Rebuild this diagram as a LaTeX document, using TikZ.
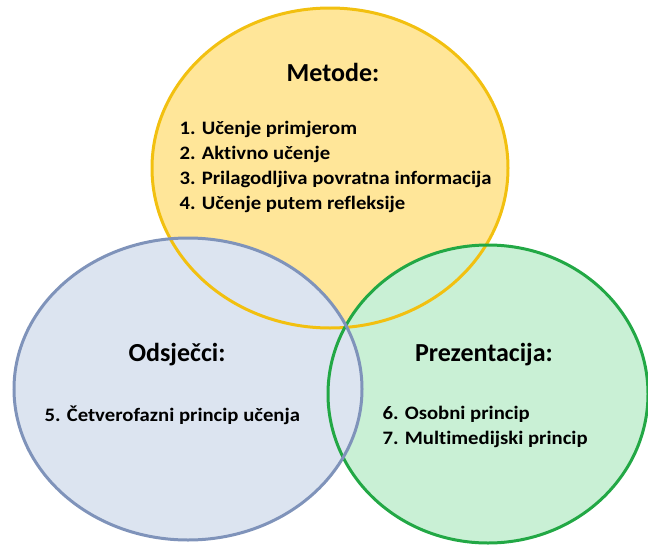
\documentclass[tikz,border=0pt]{standalone}
\usepackage{fontspec}
\setmainfont{Carlito}[Ligatures=NoCommon]
\newfontfamily\listfont{Carlito}[FakeStretch=1.09, Ligatures=NoCommon]
\usepackage{tikz}
\definecolor{metfill}{HTML}{FFE699}
\definecolor{metline}{HTML}{F2C010}
\definecolor{odsfill}{HTML}{DCE4F0}
\definecolor{odsline}{HTML}{7F93BA}
\definecolor{prefill}{HTML}{C9F0D5}
\definecolor{preline}{HTML}{22A845}
\tikzset{title/.style={font=\fontsize{26}{30}\selectfont\bfseries}}
\tikzset{items/.style={font=\listfont\fontsize{19}{25}\selectfont\bfseries, align=left, anchor=west}}
\tikzset{ring/.style={line width=3pt}}

\begin{document}
\begin{tikzpicture}[x=1pt, y=-1pt]
            \useasboundingbox (0, 0) rectangle (648, 549);
            % fills first, lines on top
            \fill[metfill] (330, 168) ellipse [x radius=178pt, y radius=160pt];
            \fill[prefill] (488, 394) ellipse [x radius=160pt, y radius=149pt];
            \fill[odsfill] (188, 389) ellipse [x radius=174pt, y radius=151pt];
            \draw[ring, metline] (330, 168) ellipse [x radius=178pt, y radius=160pt];
            \draw[ring, preline] (488, 394) ellipse [x radius=160pt, y radius=149pt];
            \draw[ring, odsline] (188, 389) ellipse [x radius=174pt, y radius=151pt];
            \node[title] (metode) at (333, 72) {Metode:};
            \node[items] (metlist) at (176, 167) {1. Učenje primjerom\\2. Aktivno učenje\\3. Prilagodljiva povratna informacija\\4. Učenje putem refleksije};
            \node[title] (odsjecci) at (177, 355) {Odsječci:};
            \node[items] (odslist) at (41, 415) {5. Četverofazni princip učenja};
            \node[title] (prezentacija) at (484, 355) {Prezentacija:};
            \node[items] (prelist) at (379, 427) {6. Osobni princip\\7. Multimedijski princip};
        \end{tikzpicture}
\end{document}
